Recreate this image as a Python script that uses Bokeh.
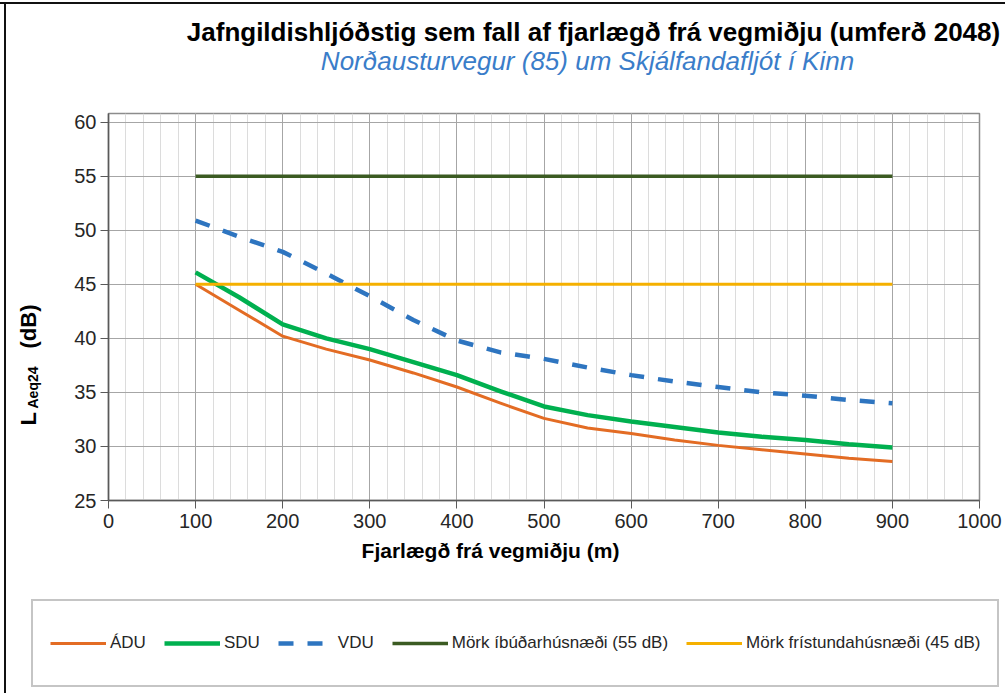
import math
from bokeh.plotting import figure
from bokeh.models import (Range1d, SingleIntervalTicker, Legend, LegendItem, Label)
from bokeh.layouts import column, row
from bokeh.embed import file_html
from bokeh.resources import INLINE

# ---- data ----
distance = [100, 150, 200, 250, 300, 350, 400, 450, 500, 550, 600, 650, 700, 750, 800, 850, 900]
adu = [45.0, 42.6, 40.2, 39.0, 38.0, 36.8, 35.5, 34.0, 32.6, 31.7, 31.2, 30.6, 30.1, 29.7, 29.3, 28.9, 28.6]
sdu = [46.1, 43.8, 41.3, 40.0, 39.0, 37.8, 36.6, 35.1, 33.7, 32.9, 32.3, 31.8, 31.3, 30.9, 30.6, 30.2, 29.9]
vdu = [50.9, 49.4, 48.0, 46.0, 43.9, 41.7, 39.8, 38.7, 38.1, 37.3, 36.6, 36.0, 35.5, 35.0, 34.7, 34.3, 34.0]
limit_x = [100, 900]
limit_residential = [55, 55]
limit_holiday = [45, 45]

series_names = ["ÁDU", "SDU", "VDU", "Mörk íbúðarhúsnæði (55 dB)", "Mörk frístundahúsnæði (45 dB)"]
series_colors = ["#E36C24", "#00B04F", "#2E75C0", "#3B5B22", "#F5B000"]
series_widths = [3, 4.5, 4.5, 3.5, 3]
series_dash = ["solid", "solid", "15 14", "solid", "solid"]
title_text = "Jafngildishljóðstig sem fall af fjarlægð frá vegmiðju (umferð 2048)"
subtitle_text = "Norðausturvegur (85) um Skjálfandafljót í Kinn"
xlabel_text = "Fjarlægð frá vegmiðju (m)"

FONT = "Liberation Sans"


def blank(width, height, **kw):
    f = figure(width=width, height=height, output_backend="svg", toolbar_location=None,
               x_range=Range1d(0, 1), y_range=Range1d(0, 1),
               x_axis_location=None, y_axis_location=None, **kw)
    f.title.visible = False
    f.grid.visible = False
    f.outline_line_color = None
    f.background_fill_color = None
    f.border_fill_color = None
    return f


# ---- title area ----
top = blank(1005, 105, min_border=0)
top.add_layout(Label(x=593, y=74, x_units="screen", y_units="screen", text=title_text,
                     text_align="center", text_baseline="middle", text_font=FONT,
                     text_font_size="26px", text_font_style="bold", text_color="black"))
top.add_layout(Label(x=587, y=45, x_units="screen", y_units="screen", text=subtitle_text,
                     text_align="center", text_baseline="middle", text_font=FONT,
                     text_font_size="26px", text_font_style="italic", text_color="#3A7DC9"))

# ---- y-axis label area (its frame is aligned with the main plot frame) ----
left = blank(50, 435, min_border_left=0, min_border_right=0, min_border_top=8, min_border_bottom=40)
left.add_layout(Label(x=28, y=75, x_units="screen", y_units="screen", text="L", angle=math.pi / 2,
                      text_align="left", text_baseline="middle", text_font=FONT,
                      text_font_size="22px", text_font_style="bold", text_color="black"))
left.add_layout(Label(x=32, y=92, x_units="screen", y_units="screen", text="Aeq24", angle=math.pi / 2,
                      text_align="left", text_baseline="middle", text_font=FONT,
                      text_font_size="14px", text_font_style="bold", text_color="black"))
left.add_layout(Label(x=28, y=152, x_units="screen", y_units="screen", text="(dB)", angle=math.pi / 2,
                      text_align="left", text_baseline="middle", text_font=FONT,
                      text_font_size="22px", text_font_style="bold", text_color="black"))

# ---- main plot ----
p = figure(width=955, height=435, output_backend="svg", toolbar_location=None,
           x_range=Range1d(0, 1000), y_range=Range1d(25, 60.8),
           min_border_left=58, min_border_right=26, min_border_top=8, min_border_bottom=40)
p.title.visible = False
p.xaxis.ticker = SingleIntervalTicker(interval=100, num_minor_ticks=5)
p.yaxis.ticker = SingleIntervalTicker(interval=5, num_minor_ticks=0)
p.xgrid.grid_line_color = "#a6a6a6"
p.xgrid.minor_grid_line_color = "#dcdcdc"
p.ygrid.grid_line_color = "#a6a6a6"
p.outline_line_color = "#8c8c8c"
p.outline_line_width = 1.5
for ax in (p.xaxis, p.yaxis):
    ax.axis_line_color = "#595959"
    ax.axis_line_width = 1.5
    ax.major_tick_line_color = "#595959"
    ax.major_tick_out = 8
    ax.major_tick_in = 0
    ax.minor_tick_out = 0
    ax.minor_tick_in = 0
    ax.major_label_text_font = FONT
    ax.major_label_text_font_size = "20px"
    ax.major_label_text_color = "#262626"
p.xaxis.major_label_standoff = 5
p.yaxis.major_label_standoff = 4

series_y = [adu, sdu, vdu, limit_residential, limit_holiday]
series_x = [distance, distance, distance, limit_x, limit_x]
for xs, ys, c, w, d in zip(series_x, series_y, series_colors, series_widths, series_dash):
    p.line(xs, ys, line_color=c, line_width=w, line_dash=d, line_join="round")

# ---- x label + legend area ----
bottom = blank(1005, 153, min_border=0)
bottom.add_layout(Label(x=490, y=143, x_units="screen", y_units="screen", text=xlabel_text,
                        text_align="center", text_baseline="middle", text_font=FONT,
                        text_font_size="21px", text_font_style="bold", text_color="black"))
# legend-only renderers (same series, lying outside this panel's ranges)
proxies = [bottom.line(xs, ys, line_color=c, line_width=w, line_dash=d)
           for xs, ys, c, w, d in zip(series_x, series_y, series_colors, series_widths, series_dash)]
legend = Legend(items=[LegendItem(label=n, renderers=[r]) for n, r in zip(series_names, proxies)],
                orientation="horizontal", location=(31, 6),
                glyph_width=56, glyph_height=50, label_height=50,
                label_standoff=4, spacing=18, padding=17, margin=0,
                label_text_font=FONT, label_text_font_size="17px", label_text_color="#262626",
                border_line_color="#8c8c8c", border_line_width=2,
                background_fill_color="white", background_fill_alpha=1)
bottom.add_layout(legend)

layout = column(top, row(left, p), bottom,
                styles={"background-color": "white",
                        "background-image": "linear-gradient(#111111, #111111), linear-gradient(#111111, #111111)",
                        "background-size": "2px 100%, 100% 2px",
                        "background-position": "4px 2px, 0px 2px",
                        "background-repeat": "no-repeat"})
open("out.html", "w").write(file_html(layout, INLINE))
